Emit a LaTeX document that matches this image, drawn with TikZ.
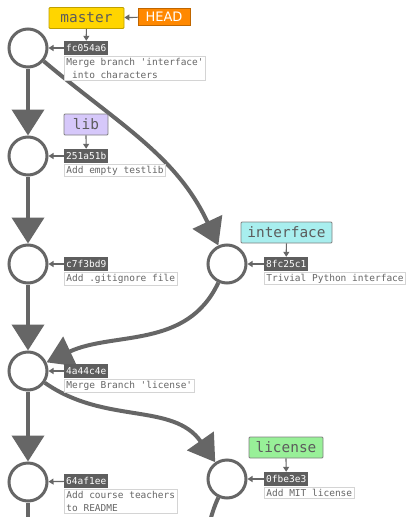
\documentclass[tikz,border=0pt]{standalone}
\usepackage{fontspec}
\setsansfont{DejaVu Sans}
\setmonofont{DejaVu Sans Mono}
\usetikzlibrary{arrows.meta, positioning}

\definecolor{linegray}{HTML}{666666}
\definecolor{hashgray}{HTML}{5E5E5E}
\definecolor{msgborder}{HTML}{D4D4D4}
\definecolor{mastercol}{HTML}{FFD500}
\definecolor{headcol}{HTML}{FF8800}
\definecolor{libcol}{HTML}{D6C8FA}
\definecolor{ifacecol}{HTML}{A8EEEE}
\definecolor{licensecol}{HTML}{98F098}

\tikzset{
  commit/.style={circle, draw=linegray, line width=3pt, fill=white,
    minimum size=38pt, inner sep=0pt},
  edge/.style={draw=linegray, line width=4pt,
    -{Triangle[length=26pt, width=32pt]}},
  trunk/.style={draw=linegray, line width=4pt},
  pointer/.style={draw=linegray, line width=1.2pt,
    -{Triangle[length=5pt, width=6pt]}},
  hash/.style={fill=hashgray, text=white, font=\ttfamily\fontsize{9.5}{11}\selectfont,
    inner xsep=2pt, inner ysep=0pt, minimum height=14pt, anchor=west},
  msg/.style={draw=msgborder, line width=0.8pt, fill=white, text=linegray,
    font=\ttfamily\fontsize{9.5}{13.5}\selectfont, align=left,
    inner xsep=2pt, inner ysep=1.5pt},
  branch/.style={draw=gray, line width=0.8pt, rounded corners=1pt, text=linegray!90!black,
    font=\ttfamily\fontsize{14.4}{15}\selectfont, minimum height=21pt, inner sep=0pt}
}

\begin{document}
\begin{tikzpicture}[x=1pt, y=-1pt]
\clip (0,0) rectangle (407,517);
% Commits on the main line
\node[commit] (c1) at (28,48) {};
\node[commit] (c2) at (28,156) {};
\node[commit] (c3) at (28,264) {};
\node[commit] (c4) at (28,371) {};
\node[commit] (c5) at (28,482) {};
% Commits on the side branches
\node[commit] (i1) at (227,264) {};
\node[commit] (l1) at (227,479) {};
% Loose ends below the page
\coordinate (c5end) at (28,540);
\coordinate (l1end) at (203,545);

% Draw history
\draw[edge] (c1) -- (c2);
\draw[edge] (c2) -- (c3);
\draw[edge] (c3) -- (c4);
\draw[edge] (c4) -- (c5);
\draw[trunk] (c5) -- (c5end);
\draw[edge] (c1) to[out=-40, in=115] (i1);
\draw[edge] (i1) to[out=-115, in=25] (c4);
\draw[edge] (c4) to[out=-35, in=125] (l1);
\draw[trunk] (l1) to[out=-115, in=70] (l1end);

% Hashes and messages
\node[hash] (h1) at (64,48) {fc054a6};
\node[msg, below right=1pt and 0pt of h1.south west] (m1) {Merge branch 'interface'\\~into characters};
\node[hash] (h2) at (64,156) {251a51b};
\node[msg, below right=1pt and 0pt of h2.south west] (m2) {Add empty testlib};
\node[hash] (h3) at (64,264) {c7f3bd9};
\node[msg, below right=1pt and 0pt of h3.south west] (m3) {Add .gitignore file};
\node[hash] (h4) at (64,371) {4a44c4e};
\node[msg, below right=1pt and 0pt of h4.south west] (m4) {Merge Branch 'license'};
\node[hash] (h5) at (64,481) {64af1ee};
\node[msg, below right=1pt and 0pt of h5.south west] (m5) {Add course teachers\\to README};
\node[hash] (hi) at (264,264) {8fc25c1};
\node[msg, below right=1pt and 0pt of hi.south west] (mi) {Trivial Python interface};
\node[hash] (hl) at (264,479) {0fbe3e3};
\node[msg, below right=1pt and 0pt of hl.south west] (ml) {Add MIT license};
\foreach \h/\c in {h1/c1, h2/c2, h3/c3, h4/c4, h5/c5, hi/i1, hl/l1}
  \draw[pointer] (\h) -- (\c);

% Branch names
\node[branch, fill=mastercol, draw=mastercol!75!black, minimum width=75pt] (master) at (86.5,18) {master};
\node[branch, fill=libcol, minimum width=44pt] (lib) at (86,124.5) {lib};
\node[branch, fill=ifacecol, minimum width=91pt] (iface) at (286.5,232.5) {interface};
\node[branch, fill=licensecol, minimum width=74pt] (license) at (286,447.5) {license};
\node[fill=headcol, draw=headcol!75!black, line width=0.8pt, text=white,
  font=\sffamily\fontsize{13}{13}\selectfont, minimum width=52pt,
  minimum height=17pt, inner sep=0pt] (head) at (164,17) {HEAD};
\draw[pointer] (head) -- (master);
\draw[pointer] (master) -- (h1);
\draw[pointer] (lib) -- (h2);
\draw[pointer] (iface) -- (hi);
\draw[pointer] (license) -- (hl);
\end{tikzpicture}
\end{document}
